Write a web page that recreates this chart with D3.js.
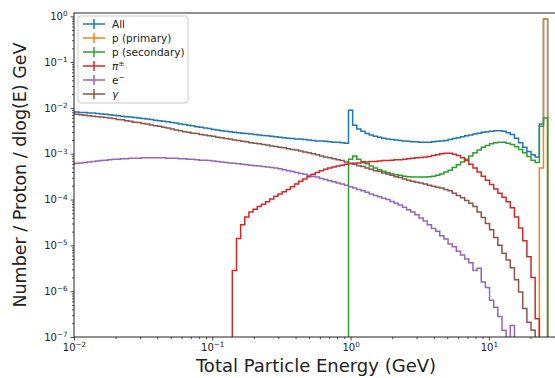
<!DOCTYPE html>
<html lang="en">
<head>
<meta charset="UTF-8">
<title>Particle energy spectra</title>
<script src="https://d3js.org/d3.v7.min.js"></script>
<style>
  body { margin: 0; background: white; font-family: "DejaVu Sans", sans-serif; }
  svg { display: block; }
</style>
</head>
<body>
<svg id="chart" width="555" height="378"></svg>
<script>
// log10 bin edges: first edge and width (decades)
const binLo = -2.025, binStep = 0.03;

const seriesLabels = ["All", "p (primary)", "p (secondary)", "π", "e", "γ"];
const seriesSup = ["", "", "", "±", "−", ""];
const seriesColors = ["#1f77b4", "#ff7f0e", "#2ca02c", "#d62728", "#9467bd", "#8c564b"];
// first bin index of each series
const seriesStart = [0, 113, 67, 39, 0, 0];

// log10(counts) per bin (null = empty bin)
const allLog = [
  -2.085,-2.09,-2.10,-2.10,-2.11,-2.11,-2.12,-2.13,-2.14,-2.15,
  -2.16,-2.17,-2.18,-2.19,-2.20,-2.21,-2.22,-2.23,-2.24,-2.25,
  -2.27,-2.28,-2.29,-2.30,-2.32,-2.33,-2.35,-2.36,-2.38,-2.39,
  -2.41,-2.42,-2.44,-2.45,-2.47,-2.48,-2.50,-2.51,-2.52,-2.53,
  -2.54,-2.55,-2.56,-2.57,-2.58,-2.59,-2.60,-2.61,-2.62,-2.63,
  -2.64,-2.65,-2.66,-2.67,-2.68,-2.68,-2.69,-2.70,-2.71,-2.72,
  -2.72,-2.73,-2.74,-2.75,-2.75,-2.76,-2.77,-2.05,-2.38,-2.46,
  -2.51,-2.56,-2.59,-2.62,-2.64,-2.66,-2.68,-2.69,-2.70,-2.71,
  -2.72,-2.73,-2.74,-2.74,-2.75,-2.75,-2.75,-2.74,-2.73,-2.72,
  -2.71,-2.69,-2.67,-2.65,-2.63,-2.61,-2.59,-2.57,-2.55,-2.53,
  -2.52,-2.51,-2.50,-2.50,-2.51,-2.54,-2.58,-2.66,-2.76,-2.86,
  -2.95,-3.02,-3.07,-2.35,-0.06
];
const pPrimaryLog = [-3.31, -0.065];
const pSecondaryLog = [
  -3.12,-3.05,-3.12,-3.17,-3.22,-3.27,-3.31,-3.35,-3.38,-3.41,
  -3.44,-3.46,-3.47,-3.49,-3.50,-3.51,-3.51,-3.51,-3.51,-3.50,
  -3.49,-3.47,-3.44,-3.40,-3.36,-3.30,-3.24,-3.18,-3.12,-3.05,
  -2.98,-2.92,-2.86,-2.82,-2.78,-2.76,-2.75,-2.75,-2.77,-2.80,
  -2.85,-2.91,-2.98,-3.06,-3.14,-3.19,-2.40,-2.22
];
const pionLog = [
  -5.55,-4.85,-4.55,-4.38,-4.27,-4.21,-4.15,-4.10,-4.05,-3.99,
  -3.93,-3.88,-3.83,-3.78,-3.72,-3.66,-3.60,-3.55,-3.50,-3.45,
  -3.41,-3.37,-3.34,-3.31,-3.29,-3.27,-3.25,-3.23,-3.22,-3.21,
  -3.20,-3.19,-3.18,-3.17,-3.17,-3.16,-3.15,-3.15,-3.14,-3.13,
  -3.13,-3.12,-3.11,-3.10,-3.09,-3.08,-3.07,-3.06,-3.04,-3.02,
  -3.00,-2.99,-2.99,-3.01,-3.04,-3.09,-3.15,-3.23,-3.31,-3.40,
  -3.49,-3.58,-3.67,-3.77,-3.86,-3.95,-4.05,-4.18,-4.38,-4.62,
  -4.90,-5.25,-5.70,-6.60
];
const electronLog = [
  -3.23,-3.21,-3.20,-3.19,-3.18,-3.17,-3.16,-3.15,-3.14,-3.13,
  -3.12,-3.12,-3.11,-3.11,-3.10,-3.10,-3.10,-3.09,-3.09,-3.09,
  -3.09,-3.09,-3.09,-3.10,-3.10,-3.10,-3.11,-3.11,-3.12,-3.12,
  -3.13,-3.14,-3.14,-3.15,-3.16,-3.17,-3.18,-3.19,-3.20,-3.21,
  -3.22,-3.23,-3.24,-3.25,-3.26,-3.27,-3.28,-3.29,-3.30,-3.31,
  -3.33,-3.35,-3.37,-3.39,-3.41,-3.43,-3.45,-3.47,-3.49,-3.51,
  -3.54,-3.56,-3.59,-3.61,-3.64,-3.66,-3.69,-3.72,-3.75,-3.78,
  -3.81,-3.84,-3.88,-3.91,-3.94,-3.97,-4.00,-4.04,-4.08,-4.12,
  -4.17,-4.22,-4.27,-4.33,-4.40,-4.47,-4.55,-4.63,-4.69,-4.79,
  -4.86,-4.97,-5.03,-5.13,-5.21,-5.30,-5.38,-5.55,-5.50,-5.80,
  -5.92,-6.20,-6.35,-6.55,-6.85,null,-6.75
];
const gammaLog = [
  -2.13,-2.14,-2.15,-2.16,-2.17,-2.18,-2.19,-2.20,-2.21,-2.22,
  -2.23,-2.25,-2.26,-2.28,-2.29,-2.31,-2.32,-2.34,-2.35,-2.37,
  -2.39,-2.40,-2.42,-2.44,-2.46,-2.48,-2.50,-2.52,-2.53,-2.55,
  -2.56,-2.58,-2.59,-2.61,-2.62,-2.64,-2.65,-2.67,-2.68,-2.70,
  -2.71,-2.73,-2.74,-2.76,-2.77,-2.78,-2.80,-2.81,-2.83,-2.84,
  -2.86,-2.87,-2.89,-2.91,-2.92,-2.94,-2.96,-2.98,-3.00,-3.02,
  -3.05,-3.07,-3.09,-3.11,-3.13,-3.15,-3.18,-3.21,-3.23,-3.26,
  -3.28,-3.31,-3.34,-3.37,-3.39,-3.42,-3.44,-3.47,-3.50,-3.52,
  -3.55,-3.58,-3.60,-3.62,-3.64,-3.66,-3.69,-3.71,-3.73,-3.75,
  -3.78,-3.81,-3.86,-3.91,-3.96,-4.02,-4.08,-4.15,-4.27,-4.39,
  -4.52,-4.66,-4.83,-5.00,-5.17,-5.32,-5.49,-5.75,-6.02,-6.38,
  -6.68,-6.85
];
const seriesValues = [allLog, pPrimaryLog, pSecondaryLog, pionLog, electronLog, gammaLog];

const xMajor = [-2, -1, 0, 1];
const yMajor = [0, -1, -2, -3, -4, -5, -6, -7];

const svg = d3.select("#chart");
const mLeft = 74, mRight = 558, mTop = 13, mBottom = 337;

const x = d3.scaleLog().domain([1e-2, Math.pow(10, 1.5)]).range([mLeft, mRight]);
const y = d3.scaleLog().domain([1e-7, Math.pow(10, 0.072)]).range([mBottom, mTop]);

const edge = k => Math.pow(10, binLo + binStep * k);

svg.append("defs").append("clipPath").attr("id", "plotclip")
  .append("rect").attr("x", mLeft).attr("y", mTop)
  .attr("width", mRight - mLeft).attr("height", mBottom - mTop);

// step histograms
const plot = svg.append("g").attr("clip-path", "url(#plotclip)");
seriesValues.forEach((vals, s) => {
  const start = seriesStart[s];
  const below = mBottom + 20;
  const pts = [[x(edge(start)), below]];
  vals.forEach((v, j) => {
    const yy = v == null ? below : y(Math.pow(10, v));
    pts.push([x(edge(start + j)), yy], [x(edge(start + j + 1)), yy]);
  });
  pts.push([x(edge(start + vals.length)), below]);
  plot.append("path")
    .attr("d", d3.line()(pts))
    .attr("fill", "none")
    .attr("stroke", seriesColors[s])
    .attr("stroke-width", 1.5)
    .attr("stroke-linejoin", "miter");
});

// axes
function sciLabel(textSel, exp) {
  textSel.text(null);
  textSel.append("tspan").text("10");
  textSel.append("tspan").attr("dy", "-0.5em").attr("font-size", "0.72em")
    .text(exp < 0 ? "\u2212" + (-exp) : exp);
}

const xMinor = [];
for (let e = -2; e <= 1; e++) for (let m = 2; m <= 9; m++) {
  const v = m * Math.pow(10, e);
  if (v <= Math.pow(10, 1.5)) xMinor.push(v);
}
const yMinor = [];
for (let e = -7; e < 0; e++) for (let m = 2; m <= 9; m++) yMinor.push(m * Math.pow(10, e));

const gx = svg.append("g").attr("transform", `translate(0,${mBottom})`)
  .call(d3.axisBottom(x).tickValues(xMajor.map(e => Math.pow(10, e))).tickSize(3.5).tickPadding(3));
gx.selectAll(".tick text").each(function(d, i) { sciLabel(d3.select(this), xMajor[i]); });
svg.append("g").attr("transform", `translate(0,${mBottom})`)
  .call(d3.axisBottom(x).tickValues(xMinor).tickSize(2).tickFormat(""));

const gy = svg.append("g").attr("transform", `translate(${mLeft},0)`)
  .call(d3.axisLeft(y).tickValues(yMajor.map(e => Math.pow(10, e))).tickSize(3.5).tickPadding(3));
gy.selectAll(".tick text").each(function(d, i) { sciLabel(d3.select(this), yMajor[i]); });
svg.append("g").attr("transform", `translate(${mLeft},0)`)
  .call(d3.axisLeft(y).tickValues(yMinor).tickSize(2).tickFormat(""));

svg.selectAll(".domain").remove();
svg.selectAll(".tick line").attr("stroke", "#222").attr("stroke-width", 0.8);
svg.selectAll(".tick text").attr("font-family", "DejaVu Sans").attr("font-size", 10).attr("fill", "#222");

svg.append("rect").attr("x", mLeft).attr("y", mTop)
  .attr("width", mRight - mLeft).attr("height", mBottom - mTop)
  .attr("fill", "none").attr("stroke", "#222").attr("stroke-width", 1);

svg.append("text")
  .attr("x", (mLeft + mRight) / 2).attr("y", 372)
  .attr("text-anchor", "middle").attr("font-size", 18).attr("fill", "#222")
  .text("Total Particle Energy (GeV)");

svg.append("text")
  .attr("transform", `translate(26,${(mTop + mBottom) / 2}) rotate(-90)`)
  .attr("text-anchor", "middle").attr("font-size", 17.5).attr("fill", "#222")
  .text("Number / Proton / dlog(E) GeV");

// legend
const lg = svg.append("g");
lg.append("rect").attr("x", 78).attr("y", 16).attr("width", 110).attr("height", 87)
  .attr("rx", 2.5).attr("fill", "white").attr("fill-opacity", 0.8)
  .attr("stroke", "#ccc").attr("stroke-width", 1);
seriesLabels.forEach((lab, i) => {
  const yy = 24 + i * 14;
  lg.append("line").attr("x1", 83).attr("x2", 105).attr("y1", yy).attr("y2", yy)
    .attr("stroke", seriesColors[i]).attr("stroke-width", 1.5);
  lg.append("line").attr("x1", 94).attr("x2", 94).attr("y1", yy - 5).attr("y2", yy + 5)
    .attr("stroke", seriesColors[i]).attr("stroke-width", 1.5);
  const t = lg.append("text").attr("x", 112).attr("y", yy + 3.5)
    .attr("font-size", 10.5).attr("fill", "#222");
  const main = t.append("tspan").text(lab);
  if (lab === "π" || lab === "γ") main.attr("font-style", "italic");
  if (seriesSup[i]) t.append("tspan").attr("dy", "-0.5em").attr("font-size", "0.7em").text(seriesSup[i]);
});
</script>
</body>
</html>
